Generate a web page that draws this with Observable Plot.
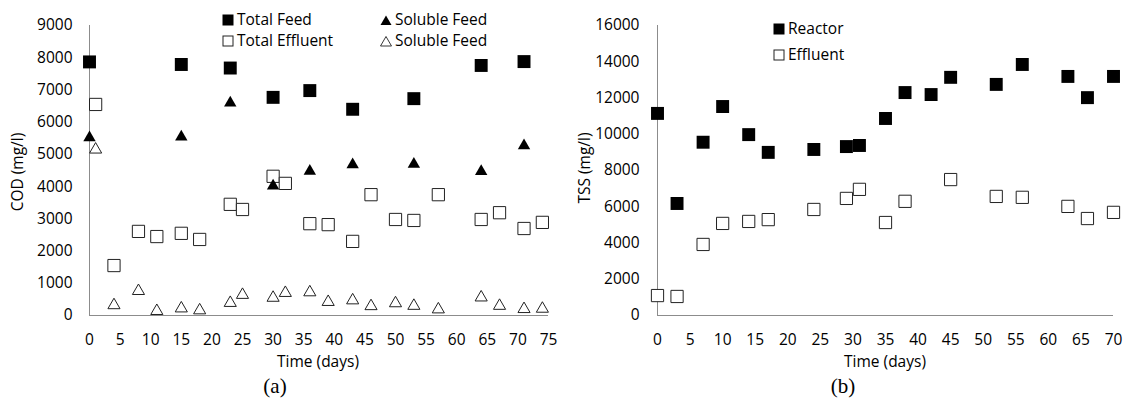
<!DOCTYPE html>
<html>
<head>
<meta charset="utf-8">
<script src="https://cdn.jsdelivr.net/npm/d3@7"></script>
<script src="https://cdn.jsdelivr.net/npm/@observablehq/plot@0.6"></script>
<style>
  body { margin: 0; background: #fff; }
  #wrap { position: relative; width: 1125px; height: 399px; font-family: "Open Sans", sans-serif; color: #000; }
  .abs { position: absolute; white-space: nowrap; line-height: 1; }
  .t { font-size: 15.5px; }
  .cap { font-family: "Liberation Serif", serif; font-size: 21px; }
</style>
</head>
<body>
<div id="wrap">
  <div id="chartA" class="abs" style="left:0;top:0"></div>
  <div id="chartB" class="abs" style="left:560px;top:0"></div>
</div>
<script>
// ---------- Panel (a): COD ----------
const codXTicks = [0, 5, 10, 15, 20, 25, 30, 35, 40, 45, 50, 55, 60, 65, 70, 75];
const codYTicks = [0, 1000, 2000, 3000, 4000, 5000, 6000, 7000, 8000, 9000];

const totalFeedDays = [0, 15, 23, 30, 36, 43, 53, 64, 71];
const totalFeed     = [7870, 7790, 7680, 6770, 6980, 6400, 6730, 7760, 7880];

const solubleFeedDays = [0, 15, 23, 30, 36, 43, 53, 64, 71];
const solubleFeed     = [5520, 5540, 6600, 4020, 4480, 4680, 4700, 4470, 5270];

const totalEffluentDays = [1, 4, 8, 11, 15, 18, 23, 25, 30, 32, 36, 39, 43, 46, 50, 53, 57, 64, 67, 71, 74];
const totalEffluent     = [6550, 1550, 2610, 2450, 2550, 2360, 3450, 3290, 4320, 4100, 2850, 2820, 2300, 3750, 2980, 2950, 3750, 2980, 3190, 2700, 2890];

const solubleEffluentDays = [1, 4, 8, 11, 15, 18, 23, 25, 30, 32, 36, 39, 43, 46, 50, 53, 57, 64, 67, 71, 74];
const solubleEffluent     = [5150, 320, 760, 140, 220, 160, 390, 640, 550, 700, 720, 420, 470, 290, 380, 300, 190, 560, 300, 200, 210];

// ---------- Panel (b): TSS ----------
const tssXTicks = [0, 5, 10, 15, 20, 25, 30, 35, 40, 45, 50, 55, 60, 65, 70];
const tssYTicks = [0, 2000, 4000, 6000, 8000, 10000, 12000, 14000, 16000];

const reactorDays = [0, 3, 7, 10, 14, 17, 24, 29, 31, 35, 38, 42, 45, 52, 56, 63, 66, 70];
const reactor     = [11150, 6180, 9560, 11530, 9980, 9000, 9160, 9320, 9380, 10870, 12300, 12190, 13140, 12750, 13850, 13190, 12020, 13190];

const effluentDays = [0, 3, 7, 10, 14, 17, 24, 29, 31, 35, 38, 45, 52, 56, 63, 66, 70];
const effluent     = [1100, 1050, 3920, 5080, 5190, 5290, 5850, 6460, 6960, 5130, 6300, 7500, 6570, 6520, 6020, 5350, 5690];

const zip = (xs, ys) => xs.map((x, i) => ({x, y: ys[i]}));
const fmt = d => String(d);
const axisGray = "#8c8c8c";
const edge = "#222";

const baseStyle = {fontFamily: "Open Sans, sans-serif", fontSize: "15.5px", color: "#000", background: "transparent", overflow: "visible"};

const chartA = Plot.plot({
  width: 560, height: 370,
  marginLeft: 89, marginRight: 12, marginTop: 25, marginBottom: 55,
  style: baseStyle,
  x: {domain: [0, 75], ticks: codXTicks, tickSize: 0, tickPadding: 18, tickFormat: fmt, label: null},
  y: {domain: [0, 9000], ticks: codYTicks, tickSize: 0, tickPadding: 17, tickFormat: fmt, label: null},
  marks: [
    Plot.ruleY([0], {stroke: axisGray, strokeWidth: 1}),
    Plot.ruleX([0], {stroke: axisGray, strokeWidth: 1}),
    Plot.dot(zip(totalEffluentDays, totalEffluent), {x: "x", y: "y", symbol: "square", r: 6.9, fill: "#fff", stroke: edge, strokeWidth: 1}),
    Plot.dot(zip(solubleEffluentDays, solubleEffluent), {x: "x", y: "y", symbol: "triangle", r: 4.5, fill: "#fff", stroke: edge, strokeWidth: 1}),
    Plot.dot(zip(totalFeedDays, totalFeed), {x: "x", y: "y", symbol: "square", r: 7.3, fill: "#000", stroke: "none"}),
    Plot.dot(zip(solubleFeedDays, solubleFeed), {x: "x", y: "y", symbol: "triangle", r: 4.6, fill: "#000", stroke: "none"})
  ]
});
document.getElementById("chartA").appendChild(chartA);

const chartB = Plot.plot({
  width: 565, height: 370,
  marginLeft: 97, marginRight: 12, marginTop: 25, marginBottom: 55,
  style: baseStyle,
  x: {domain: [0, 70], ticks: tssXTicks, tickSize: 0, tickPadding: 18, tickFormat: fmt, label: null},
  y: {domain: [0, 16000], ticks: tssYTicks, tickSize: 0, tickPadding: 18, tickFormat: fmt, label: null},
  marks: [
    Plot.ruleY([0], {stroke: axisGray, strokeWidth: 1}),
    Plot.ruleX([0], {stroke: axisGray, strokeWidth: 1}),
    Plot.dot(zip(effluentDays, effluent), {x: "x", y: "y", symbol: "square", r: 6.9, fill: "#fff", stroke: edge, strokeWidth: 1}),
    Plot.dot(zip(reactorDays, reactor), {x: "x", y: "y", symbol: "square", r: 7.3, fill: "#000", stroke: "none"})
  ]
});
document.getElementById("chartB").appendChild(chartB);

// ---------- overlay texts & legends ----------
const wrap = document.getElementById("wrap");
function addText(txt, x, y, cls, rotate) {
  const d = document.createElement("div");
  d.className = "abs " + cls;
  d.textContent = txt;
  d.style.left = x + "px";
  d.style.top = y + "px";
  d.style.transform = "translate(-50%,-50%)" + (rotate ? " rotate(-90deg)" : "");
  wrap.appendChild(d);
}
function addLegend(kind, x, yc, label) {
  const s = 12;
  let shape;
  if (kind === "fsq") shape = `<rect x="0.5" y="0.5" width="11" height="11" fill="#000"/>`;
  else if (kind === "osq") shape = `<rect x="1" y="1" width="10" height="10" fill="#fff" stroke="${edge}" stroke-width="1"/>`;
  else if (kind === "ftri") shape = `<path d="M6,1.5 L11.5,11 L0.5,11 Z" fill="#000"/>`;
  else shape = `<path d="M6,1.5 L11.5,11 L0.5,11 Z" fill="#fff" stroke="${edge}" stroke-width="0.9"/>`;
  const sv = document.createElement("div");
  sv.className = "abs";
  sv.style.left = x + "px";
  sv.style.top = (yc - 6) + "px";
  sv.innerHTML = `<svg width="${s}" height="${s}" style="display:block">${shape}</svg>`;
  wrap.appendChild(sv);
  const t = document.createElement("div");
  t.className = "abs t";
  t.textContent = label;
  t.style.left = (x + 15) + "px";
  t.style.top = yc + "px";
  t.style.transform = "translateY(-50%)";
  wrap.appendChild(t);
}

addText("COD (mg/l)", 18, 172, "t", true);
addText("TSS (mg/l)", 585, 168, "t", true);
addText("Time (days)", 318, 362, "t", false);
addText("Time (days)", 885, 362, "t", false);
addText("(a)", 275, 386, "cap", false);
addText("(b)", 843, 386, "cap", false);

addLegend("fsq", 222, 20, "Total Feed");
addLegend("osq", 222, 41, "Total Effluent");
addLegend("ftri", 380, 20, "Soluble Feed");
addLegend("otri", 380, 41, "Soluble Feed");
addLegend("fsq", 773, 29, "Reactor");
addLegend("osq", 773, 55, "Effluent");
</script>
</body>
</html>
